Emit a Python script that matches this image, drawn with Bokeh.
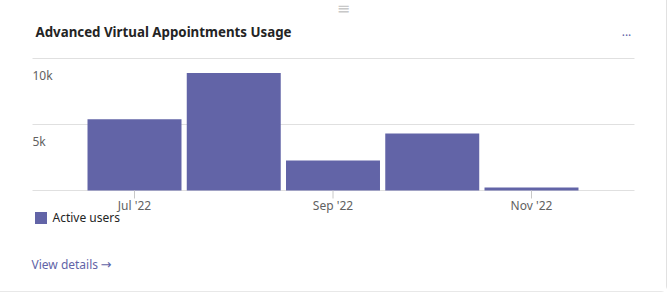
import math
from bokeh.plotting import figure
from bokeh.models import Range1d, Label, Legend, LegendItem, ColumnDataSource
from bokeh.core.properties import value
from bokeh.embed import file_html
from bokeh.resources import INLINE

# ---- data ----
months = ["Jul '22", "Aug '22", "Sep '22", "Oct '22", "Nov '22"]
active_users = [5400, 8900, 2270, 4320, 230]
tick_months = [0, 2, 4]             # indexes of labelled months
y_tick_values = [5000, 10000]
y_tick_labels = ["5k", "10k"]
grid_values = [0, 5000, 10000]

title_text = "Advanced Virtual Appointments Usage"
series_name = "Active users"

FONT = "Noto Sans"
PURPLE = "#6264a7"
W, H = 667, 292

# ---- scales: the frame covers the whole card ----
px_per_month = 99.25
first_center_px = 134.0
baseline_px = 190.0
px_per_user = 132 / 10000

x_start = -first_center_px / px_per_month
x_end = x_start + W / px_per_month
y_start = -(H - baseline_px) / px_per_user
y_end = baseline_px / px_per_user

plot_left = (32 - first_center_px) / px_per_month
plot_right = (634 - first_center_px) / px_per_month

idx = list(range(len(months)))
src = ColumnDataSource(dict(x=idx, top=active_users, month=months))

p = figure(width=W, height=H, output_backend="svg", toolbar_location=None,
           x_range=Range1d(x_start, x_end), y_range=Range1d(y_start, y_end),
           x_axis_location=None, y_axis_location=None,
           min_border=0)
p.outline_line_color = None
p.background_fill_color = "white"
p.border_fill_color = "white"
p.grid.visible = False

# horizontal grid lines
p.segment(x0=[plot_left] * len(grid_values), x1=[plot_right] * len(grid_values),
          y0=grid_values, y1=grid_values, line_color="#e0e0e0", line_width=1)

bars = p.vbar(x="x", top="top", bottom=0, width=0.947, source=src,
              fill_color=PURPLE, line_color=None)

# y tick labels (sit just under their grid lines)
p.text(x=[plot_left] * len(y_tick_values), y=y_tick_values, text=y_tick_labels,
       text_align="left", text_baseline="middle", y_offset=17,
       text_font=value(FONT), text_font_size="12px", text_color="#616161")

# x ticks and labels
p.ray(x=tick_months, y=[0] * len(tick_months), length=8, length_units="screen",
      angle=-math.pi / 2, line_color="#c8c8c8", line_width=1)
p.text(x=tick_months, y=[0] * len(tick_months), text=[months[i] for i in tick_months],
       text_align="center", text_baseline="middle", y_offset=15,
       text_font=value(FONT), text_font_size="12px", text_color="#616161")

def lab(x, y, text, **kw):
    p.add_layout(Label(x=x, y=H - y, x_units="screen", y_units="screen", text=text, **kw))

lab(35, 31, title_text, text_font=FONT, text_font_size="13.3px", text_font_style="bold",
    text_color="#242424", text_baseline="middle")
lab(626, 31, "...", text_font=FONT, text_font_size="12px", text_color=PURPLE,
    text_align="center", text_baseline="alphabetic")
lab(343, 8, "≡", text_font="DejaVu Sans", text_font_size="16px", text_color="#c8c8c8",
    text_align="center", text_baseline="middle")
lab(31, 264, "View details", text_font=FONT, text_font_size="12px", text_color=PURPLE,
    text_baseline="middle")
lab(100, 264, "→", text_font="DejaVu Sans", text_font_size="13px", text_color=PURPLE,
    text_baseline="middle")

legend = Legend(items=[LegendItem(label=series_name, renderers=[bars])],
                location=(32.5, H - 225.5), orientation="horizontal",
                glyph_width=15, glyph_height=15, label_standoff=5,
                padding=0, margin=0, spacing=0,
                border_line_color=None, background_fill_alpha=0,
                label_text_font=FONT, label_text_font_size="12px",
                label_text_color="#242424")
p.add_layout(legend, "center")

p.styles = {"border-right": "1px solid #e1e1e1", "border-bottom": "1px solid #e8e8e8",
            "border-bottom-right-radius": "6px", "box-sizing": "border-box"}

open("out.html", "w").write(file_html(p, INLINE))
